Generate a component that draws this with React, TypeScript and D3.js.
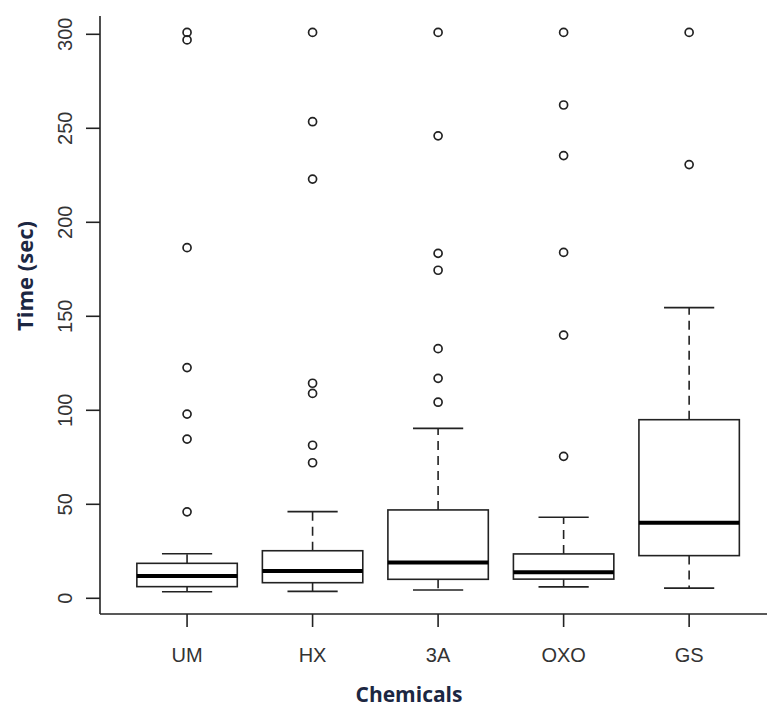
import React from "react";
import * as d3 from "d3";

const categories = ["UM", "HX", "3A", "OXO", "GS"];
const whiskerLow = [3.5, 3.7, 4.4, 6.1, 5.4];
const q1 = [6.2, 8.3, 10.1, 10.2, 22.7];
const medians = [11.9, 14.5, 19.1, 13.8, 40.2];
const q3 = [18.6, 25.3, 47, 23.6, 95];
const whiskerHigh = [23.7, 46.1, 90.4, 43.1, 154.6];
const outliers = [
  [46, 84.7, 98, 122.7, 186.5, 297, 301],
  [72.1, 81.4, 109, 114.4, 223, 253.5, 301],
  [104.3, 117, 132.8, 174.5, 183.5, 246, 301],
  [75.5, 140, 184, 235.5, 262.4, 301],
  [230.7, 301],
];
const yTicks = [0, 50, 100, 150, 200, 250, 300];

const W = 767;
const H = 709;

export default function App() {
  const x = d3.scaleLinear().domain([0.3, 5.7]).range([99.2, 777]);
  const y = d3.scaleLinear().domain([0, 300]).range([598.3, 34.3]);
  const halfBox = x(1.4) - x(1);
  const halfCap = halfBox / 2;
  const plotTop = 16;
  const plotBottom = 614;
  const axisX = 100;
  const ink = "#222";
  const txt = "#333";

  return (
    <svg
      width={W}
      height={H}
      style={{ position: "absolute", left: 0, top: 0, background: "#fff" }}
    >
      <rect x={0} y={0} width={W} height={H} fill="#fff" />
      {/* L-shaped box */}
      <line x1={axisX} x2={axisX} y1={plotTop} y2={plotBottom} stroke={ink} strokeWidth={1.6} />
      <line x1={axisX} x2={W} y1={plotBottom} y2={plotBottom} stroke={ink} strokeWidth={1.6} />

      {/* Y ticks */}
      {yTicks.map((t) => (
        <g key={t}>
          <line x1={axisX - 14} x2={axisX} y1={y(t)} y2={y(t)} stroke={ink} strokeWidth={1.6} />
          <text
            transform={`translate(72,${y(t)}) rotate(-90)`}
            textAnchor="middle"
            fontFamily="'Liberation Sans', Arial, sans-serif"
            fontSize={20}
            fill={txt}
          >
            {t}
          </text>
        </g>
      ))}

      {/* X ticks */}
      {categories.map((c, i) => (
        <g key={c}>
          <line x1={x(i + 1)} x2={x(i + 1)} y1={plotBottom} y2={plotBottom + 13} stroke={ink} strokeWidth={1.6} />
          <text
            x={x(i + 1)}
            y={662}
            textAnchor="middle"
            fontFamily="'Liberation Sans', Arial, sans-serif"
            fontSize={20}
            fill={txt}
          >
            {c}
          </text>
        </g>
      ))}

      {/* Boxes */}
      {categories.map((c, i) => {
        const cx = x(i + 1);
        return (
          <g key={"b" + c}>
            <line x1={cx} x2={cx} y1={y(q3[i])} y2={y(whiskerHigh[i])} stroke={ink} strokeWidth={1.6} strokeDasharray="9,6" />
            <line x1={cx} x2={cx} y1={y(q1[i])} y2={y(whiskerLow[i])} stroke={ink} strokeWidth={1.6} strokeDasharray="9,6" />
            <line x1={cx - halfCap} x2={cx + halfCap} y1={y(whiskerHigh[i])} y2={y(whiskerHigh[i])} stroke={ink} strokeWidth={1.6} />
            <line x1={cx - halfCap} x2={cx + halfCap} y1={y(whiskerLow[i])} y2={y(whiskerLow[i])} stroke={ink} strokeWidth={1.6} />
            <rect
              x={cx - halfBox}
              y={y(q3[i])}
              width={halfBox * 2}
              height={y(q1[i]) - y(q3[i])}
              fill="#fff"
              stroke={ink}
              strokeWidth={1.6}
            />
            <line x1={cx - halfBox} x2={cx + halfBox} y1={y(medians[i])} y2={y(medians[i])} stroke="#000" strokeWidth={4} />
            {outliers[i].map((v, j) => (
              <circle key={j} cx={cx} cy={y(v)} r={4} fill="none" stroke={ink} strokeWidth={1.7} />
            ))}
          </g>
        );
      })}

      {/* Axis titles */}
      <text
        x={409}
        y={702}
        textAnchor="middle"
        fontFamily="'Open Sans', sans-serif"
        fontWeight="bold"
        fontSize={21}
        fill="#1c2742"
      >
        Chemicals
      </text>
      <text
        transform={`translate(33,276) rotate(-90)`}
        textAnchor="middle"
        fontFamily="'Open Sans', sans-serif"
        fontWeight="bold"
        fontSize={22}
        fill="#1c2742"
      >
        Time (sec)
      </text>
    </svg>
  );
}
